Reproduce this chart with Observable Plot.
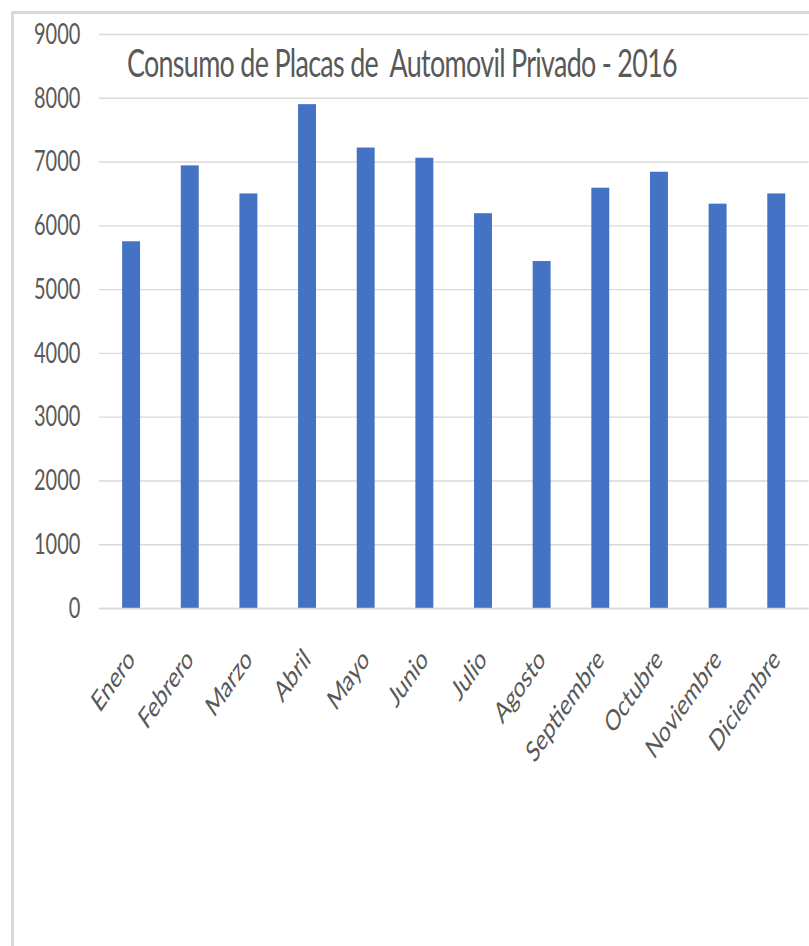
<!DOCTYPE html>
<html>
<head>
<meta charset="utf-8">
<script src="https://cdn.jsdelivr.net/npm/d3@7"></script>
<script src="https://cdn.jsdelivr.net/npm/@observablehq/plot@0.6"></script>
<style>
  html, body { margin: 0; padding: 0; background: #fff; }
  #wrap { position: relative; width: 809px; height: 946px; overflow: hidden; background: #fff; }
  #chart { position: absolute; left: 0; top: 0; width: 1172px; height: 946px; transform: scaleX(0.69); transform-origin: 0 0; }
  #chart svg { max-width: none; display: block; }
  #title { position: absolute; left: 184px; top: 38.5px; font-family: Lato, sans-serif; font-size: 39px;
           letter-spacing: -1px; color: #595959; white-space: pre; line-height: normal; }
  #frame { position: absolute; left: 11px; top: 11px; width: 1000px; height: 1000px;
           border-left: 3px solid #d9d9d9; border-top: 3px solid #d9d9d9; pointer-events: none; }
</style>
</head>
<body>
<div id="wrap">
  <div id="chart"></div>
  <div id="frame"></div>
</div>
<script>
const titleText = "Consumo de Placas de  Automovil Privado - 2016";
const months = ["Enero", "Febrero", "Marzo", "Abril", "Mayo", "Junio", "Julio", "Agosto", "Septiembre", "Octubre", "Noviembre", "Diciembre"];
const values = [5750, 6940, 6500, 7900, 7220, 7060, 6190, 5440, 6590, 6840, 6340, 6500];
const yTicks = [0, 1000, 2000, 3000, 4000, 5000, 6000, 7000, 8000, 9000];

const data = months.map((m, i) => ({month: m, value: values[i]}));

const chart = Plot.plot({
  width: 1172,
  height: 946,
  marginLeft: 143.5,
  marginRight: 0,
  marginTop: 34,
  marginBottom: 338,
  style: {fontFamily: "Lato, sans-serif", fontSize: "29px", color: "#595959", background: "#fff", maxWidth: "none"},
  x: {domain: months, paddingInner: 0.69, paddingOuter: 0.345, label: null, tickRotate: -45, tickSize: 0, tickPadding: 46},
  y: {domain: [0, 9000], ticks: yTicks, tickFormat: d => String(d), label: null, tickSize: 0, tickPadding: 27.5},
  marks: [
    Plot.gridY(yTicks, {stroke: "#d9d9d9", strokeOpacity: 1, strokeWidth: 1.4}),
    Plot.barY(data, {x: "month", y: "value", fill: "#4472C4"}),
    Plot.ruleY([0], {stroke: "#d9d9d9", strokeWidth: 1.6})
  ]
});

const holder = document.getElementById("chart");
holder.appendChild(chart);
const t = document.createElement("div");
t.id = "title";
t.textContent = titleText;
holder.appendChild(t);
</script>
</body>
</html>
